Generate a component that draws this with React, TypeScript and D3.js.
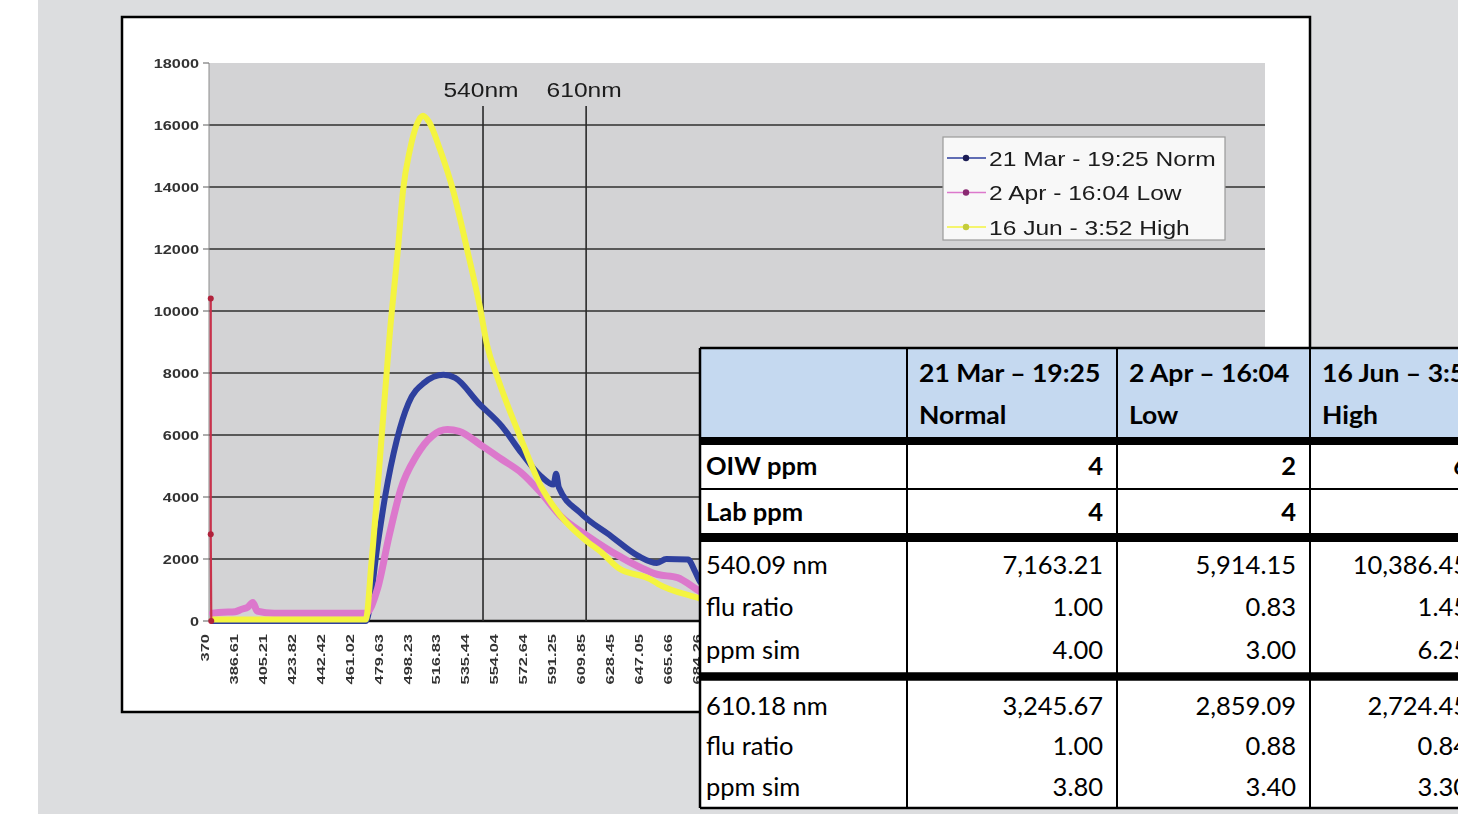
import React, { useRef, useEffect } from "react";
import * as d3 from "d3";

const W = 1458;
const H = 814;

// category labels printed under the x axis (nm)
const xTickLabels = [
  "370", "386.61", "405.21", "423.82", "442.42", "461.02", "479.63", "498.23", "516.83",
  "535.44", "554.04", "572.64", "591.25", "609.85", "628.45", "647.05", "665.66", "684.26",
];
const xAxisEndNm = 1047; // last wavelength at the right edge of the plot (hidden behind the table)
const nmPerCategory = 18.6;
const yTicks = [0, 2000, 4000, 6000, 8000, 10000, 12000, 14000, 16000, 18000];

const seriesNames = ["21 Mar - 19:25 Norm", "2 Apr - 16:04 Low", "16 Jun - 3:52 High"];

// [nm, intensity]
const normalSpectrum: [number, number][] = [
  [372, 0], [468.8, 0], [476.3, 2420], [481.3, 4030], [488.8, 5850], [496.3, 7030],
  [506.3, 7680], [518.8, 7940], [526.3, 7840], [541.3, 7030], [556.4, 6280], [568.9, 5420],
  [581.4, 4670], [589.5, 4400], [591.2, 4750], [593, 4300], [606.5, 3500], [626.5, 2740],
  [644, 2100], [656, 1870], [662, 2000], [676, 1980], [680.5, 1600], [684, 1250],
  [700, 800], [720, 500],
];
const lowSpectrum: [number, number][] = [
  [372, 250], [378, 280], [385, 300], [389, 380], [393, 450], [396.2, 600], [399, 320],
  [410, 250], [440, 250], [468.8, 250], [476.3, 1030], [483.8, 2740], [491.3, 4250],
  [501.3, 5320], [511.3, 5960], [521.4, 6175], [528.9, 6120], [543.8, 5640], [556.4, 5210],
  [568.9, 4780], [581.4, 4140], [594, 3390], [611.5, 2740], [631.5, 2100], [656.6, 1500],
  [669.2, 1400], [683.8, 950], [700, 600], [720, 400],
];
const highSpectrum: [number, number][] = [
  [372, 50], [430, 50], [468.8, 50], [472.5, 1900], [478.8, 5800], [484.3, 9300],
  [489.5, 12000], [492.8, 13900], [497.2, 15200], [501.5, 16000], [505.6, 16300],
  [509.5, 16100], [516.6, 15200], [524.9, 13900], [533.9, 12000], [542.3, 10100],
  [546.8, 8900], [553.9, 7800], [568.8, 5850], [581.4, 4350], [594, 3400], [611.5, 2550],
  [619.5, 2250], [631.5, 1700], [651.7, 1350], [656.6, 1200], [683.8, 720], [700, 450],
  [720, 300],
];
// first readings at the start of the scan
const startSpike: [number, number][] = [[371, 10400], [371, 2800], [371.3, 0]];

const markerLines = [
  { label: "540nm", nm: 544.2 },
  { label: "610nm", nm: 610.5 },
];

// table
const sampleDates = ["21 Mar – 19:25", "2 Apr – 16:04", "16 Jun – 3:52"];
const sampleClass = ["Normal", "Low", "High"];
const rowLabels = ["OIW ppm", "Lab ppm", "540.09 nm", "flu ratio", "ppm sim", "610.18 nm", "flu ratio", "ppm sim"];
const oiwPpm = ["4", "2", "6"];
const labPpm = ["4", "4", ""];
const flu540 = ["7,163.21", "5,914.15", "10,386.45"];
const ratio540 = ["1.00", "0.83", "1.45"];
const sim540 = ["4.00", "3.00", "6.25"];
const flu610 = ["3,245.67", "2,859.09", "2,724.45"];
const ratio610 = ["1.00", "0.88", "0.84"];
const sim610 = ["3.80", "3.40", "3.30"];

const colors = ["#2f3f9e", "#dc78cc", "#f4f440"];
const markerColors = ["#1c1f55", "#8a2a72", "#c4cc3a"];

function stretch(sel: any, k: number) {
  sel.each(function (this: SVGTextElement) {
    const len = this.getComputedTextLength();
    d3.select(this).attr("textLength", len * k).attr("lengthAdjust", "spacingAndGlyphs");
  });
}

const App: React.FC = () => {
  const svgRef = useRef<SVGSVGElement>(null);

  useEffect(() => {
    if (!svgRef.current) return;
    const svg = d3.select(svgRef.current);
    svg.selectAll("*").remove();

    // page background
    svg.append("rect").attr("width", W).attr("height", H).attr("fill", "#fff");
    svg.append("rect").attr("x", 38).attr("width", W - 38).attr("height", H).attr("fill", "#dcdddf");

    const defs = svg.append("defs");
    defs.append("filter").attr("id", "soft")
      .append("feGaussianBlur").attr("stdDeviation", 0.45);

    // chart image
    const frame = { x: 122, y: 17, w: 1188, h: 695 };
    const plot = { l: 209, r: 1265, t: 63, b: 621 };

    const chart = svg.append("g").attr("filter", "url(#soft)");
    chart.append("rect")
      .attr("x", frame.x).attr("y", frame.y).attr("width", frame.w).attr("height", frame.h)
      .attr("fill", "#fff").attr("stroke", "#000").attr("stroke-width", 2.5);

    chart.append("rect")
      .attr("x", plot.l).attr("y", plot.t)
      .attr("width", plot.r - plot.l).attr("height", plot.b - plot.t)
      .attr("fill", "#d3d3d5");

    const first = +xTickLabels[0];
    const second = +xTickLabels[1];
    const nCats = 1 + (xAxisEndNm - second) / nmPerCategory;
    const step = (plot.r - plot.l) / nCats;
    const x = d3.scaleLinear()
      .domain([first, second, xAxisEndNm])
      .range([plot.l, plot.l + step, plot.r]);
    const y = d3.scaleLinear().domain([0, 18000]).range([plot.b, plot.t]);

    // gridlines
    chart.append("g").selectAll("line")
      .data(yTicks.filter((v) => v > 0 && v < 18000))
      .join("line")
      .attr("x1", plot.l).attr("x2", plot.r)
      .attr("y1", (d) => y(d)).attr("y2", (d) => y(d))
      .attr("stroke", "#585858").attr("stroke-width", 1.8);

    chart.append("line")
      .attr("x1", plot.l).attr("x2", plot.l).attr("y1", plot.t).attr("y2", plot.b)
      .attr("stroke", "#8c8c8c").attr("stroke-width", 1);

    chart.append("g").selectAll("line")
      .data(yTicks)
      .join("line")
      .attr("x1", plot.l - 6).attr("x2", plot.l)
      .attr("y1", (d) => y(d)).attr("y2", (d) => y(d))
      .attr("stroke", "#777").attr("stroke-width", 1.2);

    const yLab = chart.append("g").selectAll("text")
      .data(yTicks)
      .join("text")
      .attr("x", plot.l - 10).attr("y", (d) => y(d)).attr("dy", "0.36em")
      .attr("text-anchor", "end")
      .attr("font-family", "'Liberation Sans', Arial, sans-serif")
      .attr("font-weight", "bold").attr("font-size", 12.5)
      .attr("fill", "#333")
      .text((d) => String(d));
    stretch(yLab, 1.3);

    // x axis line
    chart.append("line")
      .attr("x1", plot.l).attr("x2", plot.r).attr("y1", plot.b).attr("y2", plot.b)
      .attr("stroke", "#111").attr("stroke-width", 2.5);

    // x labels
    const xLab = chart.append("g").selectAll("text")
      .data(xTickLabels)
      .join("text")
      .attr("transform", (d) => `translate(${x(+d)},${plot.b + 13}) rotate(-90)`)
      .attr("text-anchor", "end")
      .attr("font-family", "'Liberation Sans', Arial, sans-serif")
      .attr("font-weight", "bold").attr("font-size", 11)
      .attr("fill", "#333")
      .text((d) => d);
    stretch(xLab, 1.5);

    // wavelength markers
    chart.append("g").selectAll("line")
      .data(markerLines)
      .join("line")
      .attr("x1", (d) => x(d.nm)).attr("x2", (d) => x(d.nm))
      .attr("y1", 106).attr("y2", plot.b)
      .attr("stroke", "#2a2a2a").attr("stroke-width", 1.6);
    const mLab = chart.append("g").selectAll("text")
      .data(markerLines)
      .join("text")
      .attr("x", (d) => x(d.nm) - 2).attr("y", 97)
      .attr("text-anchor", "middle")
      .attr("font-family", "'Liberation Sans', Arial, sans-serif")
      .attr("font-size", 21).attr("fill", "#1a1a1a")
      .text((d) => d.label);
    stretch(mLab, 1.17);

    // spectra
    const line = d3.line<[number, number]>()
      .x((d) => x(d[0]))
      .y((d) => y(d[1]))
      .curve(d3.curveMonotoneX);
    const spectra = [normalSpectrum, lowSpectrum, highSpectrum];
    const widths = [6, 7, 6];
    chart.append("g").selectAll("path")
      .data(spectra)
      .join("path")
      .attr("d", (d) => line(d))
      .attr("fill", "none")
      .attr("stroke", (d, i) => colors[i])
      .attr("stroke-width", (d, i) => widths[i])
      .attr("stroke-linejoin", "round")
      .attr("stroke-linecap", "round");

    chart.append("path")
      .attr("d", d3.line<[number, number]>().x((d) => x(d[0])).y((d) => y(d[1]))(startSpike))
      .attr("fill", "none").attr("stroke", "#c8304c").attr("stroke-width", 2.2);
    chart.append("g").selectAll("circle")
      .data(startSpike)
      .join("circle")
      .attr("cx", (d) => x(d[0])).attr("cy", (d) => y(d[1])).attr("r", 3)
      .attr("fill", "#b0203a");

    // legend
    const lg = chart.append("g").attr("transform", "translate(943,137)");
    lg.append("rect").attr("width", 282).attr("height", 103)
      .attr("fill", "#f8f8f8").attr("stroke", "#9a9a9a").attr("stroke-width", 1.2);
    const item = lg.selectAll("g")
      .data(seriesNames)
      .join("g")
      .attr("transform", (d, i) => `translate(0,${21 + i * 34.5})`);
    item.append("line")
      .attr("x1", 4).attr("x2", 43)
      .attr("stroke", (d, i) => colors[i]).attr("stroke-width", 1.6);
    item.append("circle")
      .attr("cx", 23).attr("r", 3.2)
      .attr("fill", (d, i) => markerColors[i]);
    const lgText = item.append("text")
      .attr("x", 46).attr("dy", "0.36em")
      .attr("font-family", "'Liberation Sans', Arial, sans-serif")
      .attr("font-size", 21).attr("fill", "#1a1a1a")
      .text((d) => d);
    stretch(lgText, 1.17);

    // table
    const colX = [700, 907, 1117, 1310, 1482];
    const top = 348;
    const headerBottom = 441;
    const oiwBottom = 489;
    const labBottom = 537.5;
    const block1Bottom = 676.5;
    const bottom = 808;

    const tbl = svg.append("g");
    tbl.append("rect")
      .attr("x", colX[0]).attr("y", top)
      .attr("width", colX[4] - colX[0]).attr("height", bottom - top)
      .attr("fill", "#fff");
    tbl.append("rect")
      .attr("x", colX[0]).attr("y", top)
      .attr("width", colX[4] - colX[0]).attr("height", headerBottom - top)
      .attr("fill", "#c5d9f0");

    const hLines = [
      { y: top, w: 2.5 },
      { y: headerBottom, w: 8 },
      { y: oiwBottom, w: 2.2 },
      { y: labBottom, w: 9 },
      { y: block1Bottom, w: 8.5 },
      { y: bottom, w: 2.5 },
    ];
    tbl.append("g").selectAll("line")
      .data(hLines)
      .join("line")
      .attr("x1", colX[0]).attr("x2", colX[4])
      .attr("y1", (d) => d.y).attr("y2", (d) => d.y)
      .attr("stroke", "#000").attr("stroke-width", (d) => d.w);
    tbl.append("g").selectAll("line")
      .data(colX.slice(0, 4))
      .join("line")
      .attr("x1", (d) => d).attr("x2", (d) => d)
      .attr("y1", top).attr("y2", bottom)
      .attr("stroke", "#000").attr("stroke-width", (d, i) => (i === 0 ? 2.5 : 2));

    const font = "Lato, 'Open Sans', sans-serif";
    const fs = 25.5;
    const rowY = [466, 512, 565, 607, 650, 706, 746, 787];

    // header
    const hdr = tbl.append("g");
    sampleDates.forEach((d, i) => {
      [d, sampleClass[i]].forEach((t, j) => {
        const ht = hdr.append("text")
          .attr("x", colX[i + 1] + 12).attr("y", 373 + j * 42).attr("dy", "0.36em")
          .attr("font-family", font).attr("font-weight", "bold").attr("font-size", fs)
          .attr("fill", "#000")
          .text(t);
        stretch(ht, 1.04);
      });
    });

    // row labels
    tbl.append("g").selectAll("text")
      .data(rowLabels)
      .join("text")
      .attr("x", colX[0] + 6).attr("y", (d, i) => rowY[i]).attr("dy", "0.36em")
      .attr("font-family", font).attr("font-size", fs)
      .attr("font-weight", (d, i) => (i < 2 ? "bold" : "normal"))
      .attr("fill", "#000")
      .text((d) => d);

    const rowsValues = [oiwPpm, labPpm, flu540, ratio540, sim540, flu610, ratio610, sim610];
    rowsValues.forEach((vals, r) => {
      tbl.append("g").selectAll("text")
        .data(vals)
        .join("text")
        .attr("x", (d, i) => colX[i + 2] - 14).attr("y", rowY[r]).attr("dy", "0.36em")
        .attr("text-anchor", "end")
        .attr("font-family", font).attr("font-size", fs)
        .attr("font-weight", r < 2 ? "bold" : "normal")
        .attr("fill", "#000")
        .text((d) => d);
    });

    return () => {
      svg.selectAll("*").remove();
    };
  }, []);

  return (
    <div style={{ position: "absolute", left: 0, top: 0 }}>
      <svg ref={svgRef} width={W} height={H} style={{ display: "block" }}></svg>
    </div>
  );
};

export default App;
